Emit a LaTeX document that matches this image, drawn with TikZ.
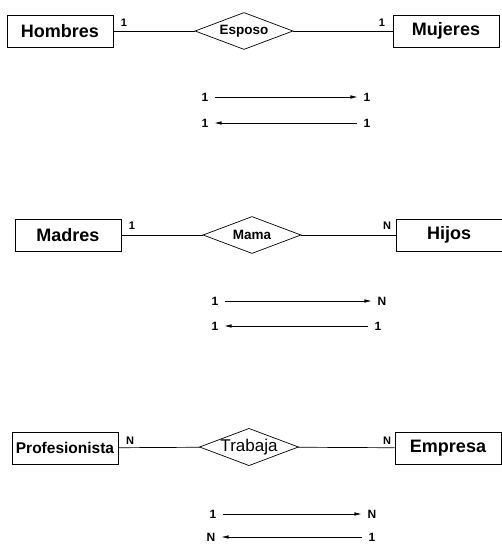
\documentclass[tikz,border=0pt]{standalone}
\usepackage{fontspec}
\setmainfont{Liberation Sans}
\usepackage{tikz}
\usetikzlibrary{arrows.meta,shapes.geometric}
\tikzstyle{entity}=[rectangle,draw,line width=0.9pt,minimum width=106pt,minimum height=32pt,inner sep=0pt,font=\fontsize{18}{20}\selectfont\bfseries]
\tikzstyle{relation}=[diamond,draw,aspect=2.65,line width=0.7pt,minimum width=98pt,minimum height=37pt,inner sep=0pt,font=\fontsize{13.5}{15}\selectfont\bfseries]
\tikzstyle{card}=[inner sep=1pt,font=\fontsize{11}{12}\selectfont\bfseries]
\tikzstyle{multlabel}=[inner sep=1pt,font=\fontsize{12}{13}\selectfont\bfseries]
\tikzstyle{edge} = [draw,line width=0.6pt,-{Latex[length=7pt,width=3.5pt]},shorten <=5pt,shorten >=5pt]
\tikzstyle{undirectededge} = [draw,line width=0.7pt]

\begin{document}
\begin{tikzpicture}[x=1pt,y=-1pt]

 \useasboundingbox (0,0) rectangle (502,545);

 %R1
  \foreach \x/\y/\name/\label in {60/31/hom/Hombres, 446/31/muj/Mujeres}
          \node[entity] (\name) at (\x,\y) {\label};
  \node[relation] (esp) at (244,31) {Esposo};

  \foreach \source/ \dest in {hom/esp, esp/muj}
         \path[undirectededge] (\source) -- (\dest);

  \foreach \x/\y/\name/\label in {124/23/c11/1, 382/23/c12/1}
          \node[card] (\name) at (\x,\y) {\label};

  \foreach \x/\y/\name/\label in {205/97/a11/1, 367/97/a12/1, 205/123/a13/1, 367/123/a14/1}
          \node[multlabel] (\name) at (\x,\y) {\label};

  \path[edge] (a11) -- (a12);
  \path[edge] (a14) -- (a13);

 %R2
  \foreach \x/\y/\name/\label in {68/235/mad/Madres, 449/235/hij/Hijos}
          \node[entity] (\name) at (\x,\y) {\label};
  \node[relation] (mam) at (252,235) {Mama};

  \foreach \source/ \dest in {mad/mam, mam/hij}
         \path[undirectededge] (\source) -- (\dest);

  \foreach \x/\y/\name/\label in {132/226/c21/1, 387/226/c22/N}
          \node[card] (\name) at (\x,\y) {\label};

  \foreach \x/\y/\name/\label in {215/301/a21/1, 382/301/a22/N, 215/326/a23/1, 378/326/a24/1}
          \node[multlabel] (\name) at (\x,\y) {\label};

  \path[edge] (a21) -- (a22);
  \path[edge] (a24) -- (a23);

 %R3
  \foreach \x/\y/\name/\label in {65/448/pro/{\fontsize{15.5}{17}\selectfont Profesionista}, 448/448/emp/Empresa}
          \node[entity] (\name) at (\x,\y) {\label};
  \node[relation,font=\fontsize{17}{19}\selectfont] (tra) at (249,447) {Trabaja};

  \foreach \source/ \dest in {pro/tra, tra/emp}
         \path[undirectededge] (\source) -- (\dest);

  \foreach \x/\y/\name/\label in {130/441/c31/N, 387/441/c32/N}
          \node[card] (\name) at (\x,\y) {\label};

  \foreach \x/\y/\name/\label in {213/514/a31/1, 372/514/a32/N, 211/537/a33/N, 372/537/a34/1}
          \node[multlabel] (\name) at (\x,\y) {\label};

  \path[edge] (a31) -- (a32);
  \path[edge] (a34) -- (a33);

\end{tikzpicture}
\end{document}
